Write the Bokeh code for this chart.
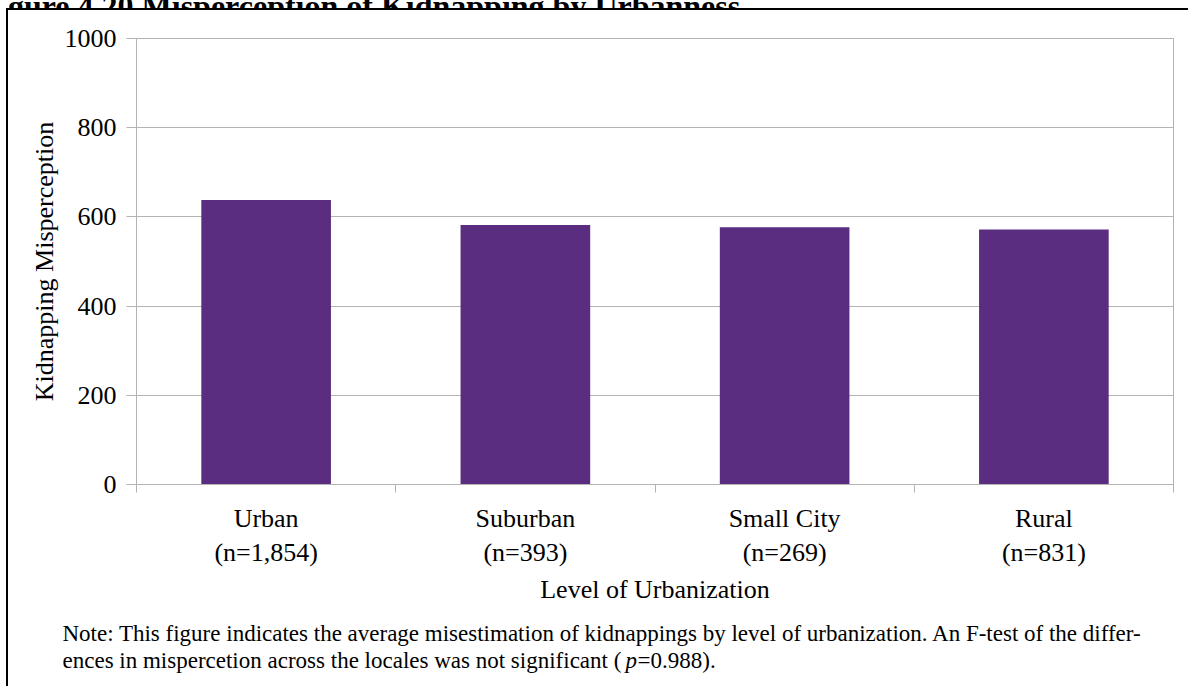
from bokeh.plotting import figure
from bokeh.layouts import column
from bokeh.models import Range1d, LinearAxis, FixedTicker
from bokeh.core.properties import value
from bokeh.embed import file_html
from bokeh.resources import INLINE

# ---- data ----
categories = ["Urban", "Suburban", "Small City", "Rural"]
sample_sizes = ["1,854", "393", "269", "831"]
misperception = [638, 582, 577, 572]
y_ticks = [0, 200, 400, 600, 800, 1000]

title_text = "Figure 4.20 Misperception of Kidnapping by Urbanness"
note_line1 = ("Note: This figure indicates the average misestimation of kidnappings by level "
              "of urbanization. An F-test of the differ-")
note_line2a = "ences in mispercetion across the locales was not significant ("
note_line2b = "p"
note_line2c = "=0.988)."

FONT = "Liberation Serif"
BAR = "#5a2d81"
GRID = "#b3b3b3"
W = 1182


def blank_fig(w, h, fill="white"):
    f = figure(width=w, height=h, x_range=Range1d(0, w), y_range=Range1d(0, h),
               x_axis_type=None, y_axis_type=None, output_backend="svg",
               toolbar_location=None, min_border=0)
    f.outline_line_color = None
    f.grid.visible = False
    f.background_fill_color = fill
    f.border_fill_color = fill
    return f


# ---- title strip (partly cut off by the page top) ----
tf = blank_fig(W, 20, fill=None)
tf.text(x=[-29], y=[5], text=[title_text], text_font=value(FONT), text_font_size="32px",
        text_font_style="bold", text_color="black", text_baseline="alphabetic")

# ---- main chart ----
n = len(categories)
centres = [i + 0.5 for i in range(n)]
bounds = [float(i) for i in range(n + 1)]

p = figure(x_range=Range1d(0, n), y_range=Range1d(0, 1000),
           frame_width=1037, frame_height=446,
           min_border_left=128, min_border_right=17, min_border_top=28, min_border_bottom=130,
           x_axis_type=None, output_backend="svg", toolbar_location=None)
p.background_fill_color = "white"
p.border_fill_color = "white"
p.outline_line_color = GRID
p.outline_line_width = 1

p.vbar(x=centres, top=misperception, width=0.5, color=BAR, line_color=None)

p.yaxis.ticker = FixedTicker(ticks=y_ticks)
p.yaxis.axis_line_color = GRID
p.yaxis.major_tick_line_color = GRID
p.yaxis.major_tick_out = 10
p.yaxis.major_tick_in = 0
p.yaxis.minor_tick_line_color = None
p.yaxis.major_label_text_font = FONT
p.yaxis.major_label_text_font_size = "26px"
p.yaxis.major_label_text_color = "black"
p.yaxis.major_label_standoff = 10
p.yaxis.axis_label = "Kidnapping Misperception"
p.yaxis.axis_label_text_font = FONT
p.yaxis.axis_label_text_font_size = "26px"
p.yaxis.axis_label_text_font_style = "normal"
p.yaxis.axis_label_text_color = "black"
p.yaxis.axis_label_standoff = 3
p.ygrid.grid_line_color = GRID
p.xgrid.grid_line_color = None

xaxis = LinearAxis(ticker=FixedTicker(ticks=centres, minor_ticks=bounds))
xaxis.major_label_overrides = {c: f"{cat}\n(n={ss})" for c, cat, ss in zip(centres, categories, sample_sizes)}
xaxis.axis_line_color = GRID
xaxis.major_tick_line_color = None
xaxis.major_tick_out = 0
xaxis.major_tick_in = 0
xaxis.minor_tick_line_color = GRID
xaxis.minor_tick_out = 8
xaxis.minor_tick_in = 0
xaxis.major_label_text_font = FONT
xaxis.major_label_text_font_size = "26px"
xaxis.major_label_text_color = "black"
xaxis.major_label_standoff = 11
xaxis.axis_label = "Level of Urbanization"
xaxis.axis_label_text_font = FONT
xaxis.axis_label_text_font_size = "26px"
xaxis.axis_label_text_font_style = "normal"
xaxis.axis_label_text_color = "black"
xaxis.axis_label_standoff = 5
p.add_layout(xaxis, "below")

# ---- note strip ----
nf = blank_fig(W, 74)
for txt, x, y, style in [(note_line1, 54, 55, "normal"), (note_line2a, 54, 28, "normal"),
                         (note_line2b, 617, 28, "italic"), (note_line2c, 629, 28, "normal")]:
    nf.text(x=[x], y=[y], text=[txt], text_font=value(FONT), text_font_size="23px",
            text_font_style=style, text_color="black", text_baseline="alphabetic")

boxed = column(p, column(nf), spacing=0, styles={"box-shadow": "-2px -2px 0 0 black"})
page = column(tf, boxed, spacing=0, styles={"margin-top": "-10px", "margin-left": "8px"})

open("out.html", "w").write(file_html(page, INLINE))
